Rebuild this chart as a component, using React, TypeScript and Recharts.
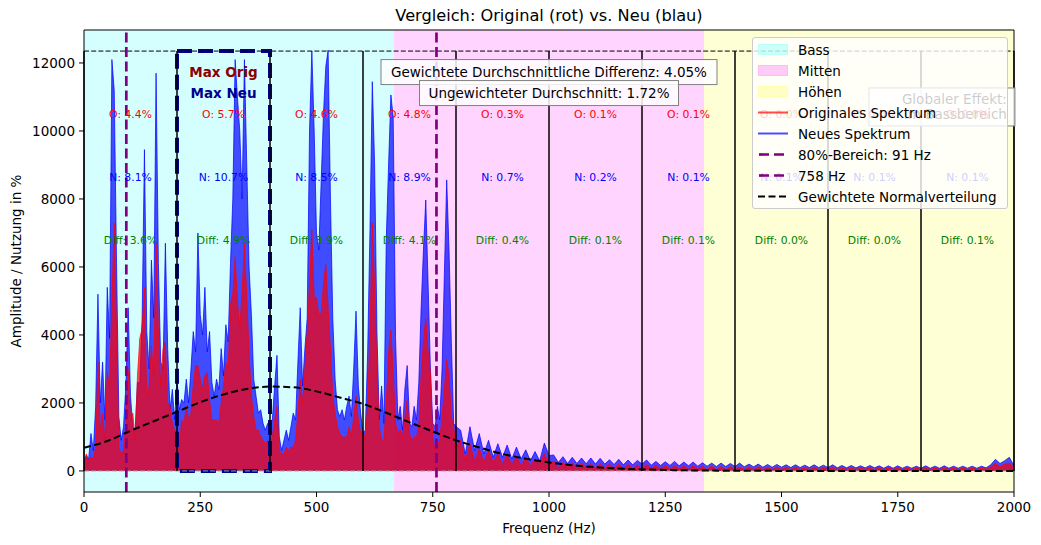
import React from 'react';
import {
  ComposedChart,
  Area,
  Line,
  XAxis,
  YAxis,
  ReferenceArea,
  ReferenceLine,
  ReferenceDot,
} from 'recharts';

// Frequenzraster (Hz)
const freqHz = [
  0, 5, 10, 15, 20, 25, 30, 35, 40, 45,
  50, 55, 60, 65, 70, 75, 80, 85, 90, 95,
  100, 105, 110, 115, 120, 125, 130, 135, 140, 145,
  150, 155, 160, 165, 170, 175, 180, 185, 190, 195,
  200, 205, 210, 215, 220, 225, 230, 235, 240, 245,
  250, 255, 260, 265, 270, 275, 280, 285, 290, 295,
  300, 305, 310, 315, 320, 325, 330, 335, 340, 345,
  350, 355, 360, 365, 370, 375, 380, 385, 390, 395,
  400, 405, 410, 415, 420, 425, 430, 435, 440, 445,
  450, 455, 460, 465, 470, 475, 480, 485, 490, 495,
  500, 505, 510, 515, 520, 525, 530, 535, 540, 545,
  550, 555, 560, 565, 570, 575, 580, 585, 590, 595,
  600, 605, 610, 615, 620, 625, 630, 635, 640, 645,
  650, 655, 660, 665, 670, 675, 680, 685, 690, 695,
  700, 705, 710, 715, 720, 725, 730, 735, 740, 745,
  750, 755, 760, 765, 770, 775, 780, 785, 790, 795,
  800,
  810, 820, 830, 840, 850, 860, 870, 880, 890, 900,
  910, 920, 930, 940, 950, 960, 970, 980, 990, 1000,
  1010, 1020, 1030, 1040, 1050, 1060, 1070, 1080, 1090, 1100,
  1110, 1120, 1130, 1140, 1150, 1160, 1170, 1180, 1190, 1200,
  1210, 1220, 1230, 1240, 1250, 1260, 1270, 1280, 1290, 1300,
  1310, 1320, 1330, 1340, 1350, 1360, 1370, 1380, 1390, 1400,
  1410, 1420, 1430, 1440, 1450, 1460, 1470, 1480, 1490, 1500,
  1510, 1520, 1530, 1540, 1550, 1560, 1570, 1580, 1590, 1600,
  1610, 1620, 1630, 1640, 1650, 1660, 1670, 1680, 1690, 1700,
  1710, 1720, 1730, 1740, 1750, 1760, 1770, 1780, 1790, 1800,
  1810, 1820, 1830, 1840, 1850, 1860, 1870, 1880, 1890, 1900,
  1910, 1920, 1930, 1940, 1950, 1960, 1970, 1980, 1990, 2000,
];

// Neues Spektrum (blau)
const neuAmp = [
  300, 450, 350, 1100, 600, 1900, 5200, 2000, 3200, 1500,
  5400, 3900, 12100, 11200, 6100, 1600, 900, 1300, 2500, 4800,
  2200, 1300, 1200, 2600, 2600, 4500, 9450, 4100, 3000, 6200,
  4500, 11700, 6100, 3200, 3000, 6700, 3600, 1800, 2400, 1500,
  2700, 1800, 2100, 2000, 2700, 2000, 3000, 4100, 3500, 7000,
  4600, 4000, 5400, 3500, 4100, 2600, 2200, 2700, 2400, 3600,
  2800, 4300, 3800, 6100, 8000, 12100, 11000, 10000, 8000, 12100,
  9000, 6000, 4600, 2700, 2200, 1700, 1800, 1400, 1200, 1400,
  1300, 1500, 2500, 3400, 1000, 600, 900, 1200, 900, 1300,
  1700, 1500, 3200, 4800, 2500, 3600, 4500, 10000, 12350, 10000,
  7000, 6500, 8500, 10500, 11900, 12380, 8000, 4500, 2700, 1800,
  1600, 1800, 1500, 1900, 2200, 1600, 3000, 4700, 2500, 1700,
  1100, 1200, 3500, 7100, 11450, 9000, 4100, 1500, 2500, 1400,
  6800, 9000, 11060, 10400, 3900, 1500, 1900, 1200, 2400, 3100,
  1400, 1300, 1900, 1500, 2600, 4800, 6500, 7970, 5500, 3000,
  1400, 1300, 1900, 1500, 3000, 5800, 8560, 6500, 3800, 1400,
  1300,
  1200, 500, 1300, 600, 1100, 500, 900, 400, 800, 400,
  760, 350, 700, 350, 620, 300, 570, 300, 820, 450,
  470, 250, 420, 220, 400, 220, 380, 210, 380, 200,
  370, 200, 330, 190, 340, 180, 320, 180, 310, 200,
  320, 170, 280, 160, 270, 160, 280, 150, 260, 150,
  260, 140, 240, 140, 230, 130, 230, 130, 220, 130,
  230, 120, 200, 120, 200, 110, 190, 110, 190, 110,
  180, 100, 180, 100, 170, 100, 180, 100, 170, 100,
  180, 90, 160, 90, 160, 90, 150, 90, 160, 90,
  150, 80, 150, 80, 150, 80, 140, 80, 140, 80,
  150, 80, 140, 80, 150, 80, 140, 80, 140, 80,
  140, 80, 140, 90, 180, 340, 220, 300, 400, 150,
];

// Originales Spektrum (rot)
const origAmp = [
  200, 500, 300, 400, 350, 700, 3200, 1200, 1700, 900,
  2900, 2500, 5000, 7300, 4100, 700, 500, 600, 1400, 3000,
  1500, 1700, 900, 2800, 3900, 4200, 5400, 2200, 2500, 3700,
  2800, 6700, 4200, 2500, 3600, 3800, 2000, 1900, 1400, 1200,
  900, 700, 1500, 1400, 1900, 1500, 1700, 2500, 3100, 3100,
  2700, 2400, 2800, 2900, 2100, 1500, 1500, 1500, 1400, 2000,
  2500, 3200, 3000, 4900, 5200, 6300, 5000, 4200, 5300, 6700,
  5100, 3500, 2200, 1600, 1200, 1200, 1000, 900, 800, 900,
  700, 1000, 1500, 1900, 600, 500, 500, 700, 600, 700,
  700, 900, 1700, 2700, 2000, 3000, 4100, 5500, 7100, 5100,
  5100, 4600, 4600, 5500, 6100, 4800, 3600, 2200, 1700, 1300,
  1100, 1000, 1000, 1000, 1300, 1000, 1600, 2200, 1500, 1100,
  1200, 900, 2000, 4100, 7300, 5500, 3000, 1300, 900, 900,
  2000, 3500, 4150, 2900, 1400, 1100, 1200, 1000, 1600, 2100,
  1100, 900, 1000, 1000, 1300, 2800, 3800, 4500, 3500, 2900,
  1000, 600, 800, 900, 1600, 2400, 3270, 2800, 1600, 1300,
  700,
  900, 300, 800, 300, 650, 250, 600, 250, 500, 200,
  480, 180, 420, 150, 380, 150, 350, 200, 520, 180,
  280, 100, 250, 100, 240, 90, 230, 90, 220, 80,
  220, 80, 200, 70, 200, 70, 190, 70, 180, 60,
  180, 60, 170, 60, 160, 50, 160, 50, 150, 50,
  150, 50, 140, 40, 140, 40, 130, 40, 130, 40,
  120, 40, 120, 40, 120, 40, 110, 40, 110, 40,
  110, 40, 110, 40, 100, 40, 110, 40, 100, 40,
  110, 40, 100, 40, 100, 40, 100, 40, 100, 40,
  100, 40, 100, 40, 100, 40, 90, 40, 90, 40,
  100, 40, 90, 40, 100, 40, 90, 40, 90, 40,
  90, 40, 90, 50, 120, 230, 120, 200, 230, 80,
];

// Gewichtete Normalverteilung
const gaussHz = [
  0, 50, 100, 150, 200, 250, 300, 350, 400, 450, 500, 550, 600, 650, 700, 750,
  800, 850, 900, 950, 1000, 1050, 1100, 1150, 1200, 1250, 1300, 1400, 1500,
  1600, 1700, 1800, 1900, 2000,
];
const gaussAmp = [
  680, 880, 1180, 1460, 1740, 2020, 2250, 2410, 2480, 2460, 2340, 2160, 1970, 1710, 1430, 1160,
  900, 690, 500, 360, 250, 170, 110, 70, 45, 28, 16, 5, 1,
  0, 0, 0, 0, 0,
];

// Frequenzbänder und Segmente
const bandEdges = [0, 666.7, 1333.3, 2000];
const bandColors = ['#00ffff', '#ff00ff', '#ffff00'];
const segEdges = [0, 200, 400, 600, 800, 1000, 1200, 1400, 1600, 1800, 2000];
const segMid = [100, 300, 500, 700, 900, 1100, 1300, 1500, 1700, 1900];
const origShare = ['4.4', '5.7', '4.6', '4.8', '0.3', '0.1', '0.1', '0.0', '0.0', '0.0'];
const neuShare = ['8.1', '10.7', '8.5', '8.9', '0.7', '0.2', '0.1', '0.1', '0.1', '0.1'];
const diffShare = ['3.6', '4.9', '3.9', '4.1', '0.4', '0.1', '0.1', '0.0', '0.0', '0.1'];
const maxLevel = 12350;
const maxSegment = [200, 400];
const markerHz = [91, 758];

const xTicks = [0, 250, 500, 750, 1000, 1250, 1500, 1750, 2000];
const yTicks = [0, 2000, 4000, 6000, 8000, 10000, 12000];
const yDomain = [-620, 12970];

const spectrum = freqHz.map((f, i) => ({ f, orig: origAmp[i], neu: neuAmp[i] }));
const gauss = gaussHz.map((f, i) => ({ f, g: gaussAmp[i] }));

const FONT = '"DejaVu Sans", sans-serif';

const txt = (value: string, fill: string, fontSize = 10.8, fontWeight: any = 'normal') => ({
  value,
  position: 'center' as const,
  fill,
  fontSize,
  fontWeight,
});

function boxLabel(lines: string[], w: number, h: number, align: 'middle' | 'end' = 'middle', padRight = 0) {
  return (props: any) => {
    const vb = props.viewBox || {};
    const cx = (vb.x ?? 0) + (vb.width ?? 0) / 2;
    const cy = (vb.y ?? 0) + (vb.height ?? 0) / 2;
    const lh = 15;
    return (
      <g>
        <rect
          x={cx - w / 2}
          y={cy - h / 2}
          width={w}
          height={h}
          fill="#fff"
          fillOpacity={0.85}
          stroke="#808080"
          strokeWidth={1}
        />
        {lines.map((t, i) => (
          <text
            key={i}
            x={align === 'end' ? cx + w / 2 - padRight : cx}
            y={cy + (i - (lines.length - 1) / 2) * lh}
            textAnchor={align}
            dominantBaseline="central"
            fontSize={13.5}
            fill="#000"
          >
            {t}
          </text>
        ))}
      </g>
    );
  };
}

const legendRows = [
  { label: 'Bass', kind: 'patch', color: '#00ffff' },
  { label: 'Mitten', kind: 'patch', color: '#ff00ff' },
  { label: 'Höhen', kind: 'patch', color: '#ffff00' },
  { label: 'Originales Spektrum', kind: 'line', color: '#ff0000' },
  { label: 'Neues Spektrum', kind: 'line', color: '#0000ff' },
  { label: '80%-Bereich: 91 Hz', kind: 'purple', color: '#800080' },
  { label: '758 Hz', kind: 'purple', color: '#800080' },
  { label: 'Gewichtete Normalverteilung', kind: 'black', color: '#000' },
];

const LegendBox = () => (
  <div
    style={{
      position: 'absolute',
      left: 752,
      top: 37,
      width: 256,
      height: 172,
      boxSizing: 'border-box',
      background: 'rgba(255,255,255,0.8)',
      border: '1px solid #cccccc',
      borderRadius: 3,
      paddingTop: 1,
      fontFamily: FONT,
      fontSize: 13.5,
      color: '#000',
    }}
  >
    {legendRows.map((r) => (
      <div key={r.label} style={{ display: 'flex', alignItems: 'center', height: 21 }}>
        <svg width={30} height={21} style={{ marginLeft: 5, marginRight: 10, flex: 'none' }}>
          {r.kind === 'patch' && (
            <rect x={0.5} y={5.5} width={29} height={10} fill={r.color} fillOpacity={0.2} stroke={r.color} strokeOpacity={0.2} />
          )}
          {r.kind === 'line' && (
            <line x1={0} x2={30} y1={10.5} y2={10.5} stroke={r.color} strokeOpacity={0.7} strokeWidth={2} />
          )}
          {r.kind === 'purple' && (
            <line x1={1} x2={30} y1={10.5} y2={10.5} stroke={r.color} strokeWidth={2.7} strokeDasharray="10 5" />
          )}
          {r.kind === 'black' && (
            <line x1={0} x2={30} y1={10.5} y2={10.5} stroke={r.color} strokeWidth={2} strokeDasharray="7 3.5" />
          )}
        </svg>
        <span style={{ whiteSpace: 'nowrap' }}>{r.label}</span>
      </div>
    ))}
  </div>
);

export default function App() {
  return (
    <div
      style={{
        position: 'absolute',
        left: 0,
        top: 0,
        width: 1041,
        height: 545,
        background: '#fff',
        fontFamily: FONT,
      }}
    >
      <div
        style={{
          position: 'absolute',
          left: 84,
          top: 5,
          width: 930,
          textAlign: 'center',
          fontSize: 16.2,
          lineHeight: '22px',
          color: '#000',
        }}
      >
        Vergleich: Original (rot) vs. Neu (blau)
      </div>
      <ComposedChart
        width={1041}
        height={545}
        data={spectrum}
        margin={{ top: 30, right: 27, bottom: 0, left: 0 }}
      >
        {bandColors.map((c, i) => (
          <ReferenceArea key={`band-${i}`} x1={bandEdges[i]} x2={bandEdges[i + 1]} fill={c} fillOpacity={0.165} stroke="none" />
        ))}
        <XAxis
          dataKey="f"
          type="number"
          domain={[0, 2000]}
          ticks={xTicks}
          allowDataOverflow
          height={53}
          tickSize={5}
          tickMargin={5}
          stroke="#000"
          tick={{ fill: '#000', fontSize: 13.5 }}
          tickLine={{ stroke: '#000' }}
          label={{ value: 'Frequenz (Hz)', position: 'insideBottom', offset: 12, fill: '#000', fontSize: 13.5 }}
        />
        <YAxis
          type="number"
          domain={yDomain}
          ticks={yTicks}
          allowDataOverflow
          width={84}
          tickSize={5}
          tickMargin={4}
          stroke="#000"
          tick={{ fill: '#000', fontSize: 13.5 }}
          tickLine={{ stroke: '#000' }}
          label={{
            value: 'Amplitude / Nutzung in %',
            angle: -90,
            position: 'insideLeft',
            offset: 16,
            fill: '#000',
            fontSize: 13.5,
            style: { textAnchor: 'middle' },
          }}
        />
        <Area
          type="linear"
          dataKey="neu"
          baseValue={0}
          stroke="#0000ff"
          strokeOpacity={0.7}
          strokeWidth={1}
          fill="#0000ff"
          fillOpacity={0.7}
          dot={false}
          activeDot={false}
          isAnimationActive={false}
        />
        <Area
          type="linear"
          dataKey="orig"
          baseValue={0}
          stroke="#ff0000"
          strokeOpacity={0.7}
          strokeWidth={1}
          fill="#ff0000"
          fillOpacity={0.7}
          dot={false}
          activeDot={false}
          isAnimationActive={false}
        />
        <ReferenceLine y={0} stroke="#999" strokeDasharray="5 2" strokeWidth={1} />
        <ReferenceLine y={maxLevel} stroke="#000" strokeDasharray="5 2.2" strokeWidth={1} />
        {segEdges.map((e) => (
          <ReferenceLine
            key={`seg-${e}`}
            segment={[
              { x: e, y: 0 },
              { x: e, y: maxLevel },
            ]}
            stroke="#000"
            strokeWidth={1.5}
          />
        ))}
        <ReferenceArea
          x1={maxSegment[0]}
          x2={maxSegment[1]}
          y1={0}
          y2={maxLevel}
          fill="none"
          stroke="#00008b"
          strokeWidth={4}
          strokeDasharray="15 6"
        />
        {markerHz.map((m) => (
          <ReferenceLine key={`mk-${m}`} x={m} stroke="#800080" strokeWidth={2.7} strokeDasharray="10 4.5" />
        ))}
        <Line
          data={gauss}
          type="monotone"
          dataKey="g"
          stroke="#000"
          strokeWidth={2}
          strokeDasharray="7 3.5"
          dot={false}
          activeDot={false}
          isAnimationActive={false}
        />
        <ReferenceLine y={yDomain[1]} stroke="#000" strokeWidth={1} ifOverflow="visible" />
        <ReferenceLine x={2000} stroke="#000" strokeWidth={1} ifOverflow="visible" />
        {segMid.map((m, i) => (
          <ReferenceDot key={`o-${m}`} x={m} y={0.85 * maxLevel} r={0} fill="none" stroke="none" label={txt(`O: ${origShare[i]}%`, '#ff0000')} />
        ))}
        {segMid.map((m, i) => (
          <ReferenceDot key={`n-${m}`} x={m} y={0.7 * maxLevel} r={0} fill="none" stroke="none" label={txt(`N: ${neuShare[i]}%`, '#0000ff')} />
        ))}
        {segMid.map((m, i) => (
          <ReferenceDot key={`d-${m}`} x={m} y={0.55 * maxLevel} r={0} fill="none" stroke="none" label={txt(`Diff: ${diffShare[i]}%`, '#008000')} />
        ))}
        <ReferenceDot x={300} y={0.95 * maxLevel} r={0} fill="none" stroke="none" label={txt('Max Orig', '#8b0000', 13.5, 'bold')} />
        <ReferenceDot x={300} y={0.9 * maxLevel} r={0} fill="none" stroke="none" label={txt('Max Neu', '#00008b', 13.5, 'bold')} />
        <ReferenceDot
          x={1000}
          y={0.95 * maxLevel}
          r={0}
          fill="none"
          stroke="none"
          label={boxLabel(['Gewichtete Durchschnittliche Differenz: 4.05%'], 336, 25)}
        />
        <ReferenceDot
          x={1000}
          y={0.9 * maxLevel}
          r={0}
          fill="none"
          stroke="none"
          label={boxLabel(['Ungewichteter Durchschnitt: 1.72%'], 259, 25)}
        />
        <ReferenceDot
          x={1845}
          y={10706}
          r={0}
          fill="none"
          stroke="none"
          label={boxLabel(['Globaler Effekt:', 'im Bassbereich'], 146, 38, 'end', 8)}
        />
      </ComposedChart>
      <LegendBox />
    </div>
  );
}
